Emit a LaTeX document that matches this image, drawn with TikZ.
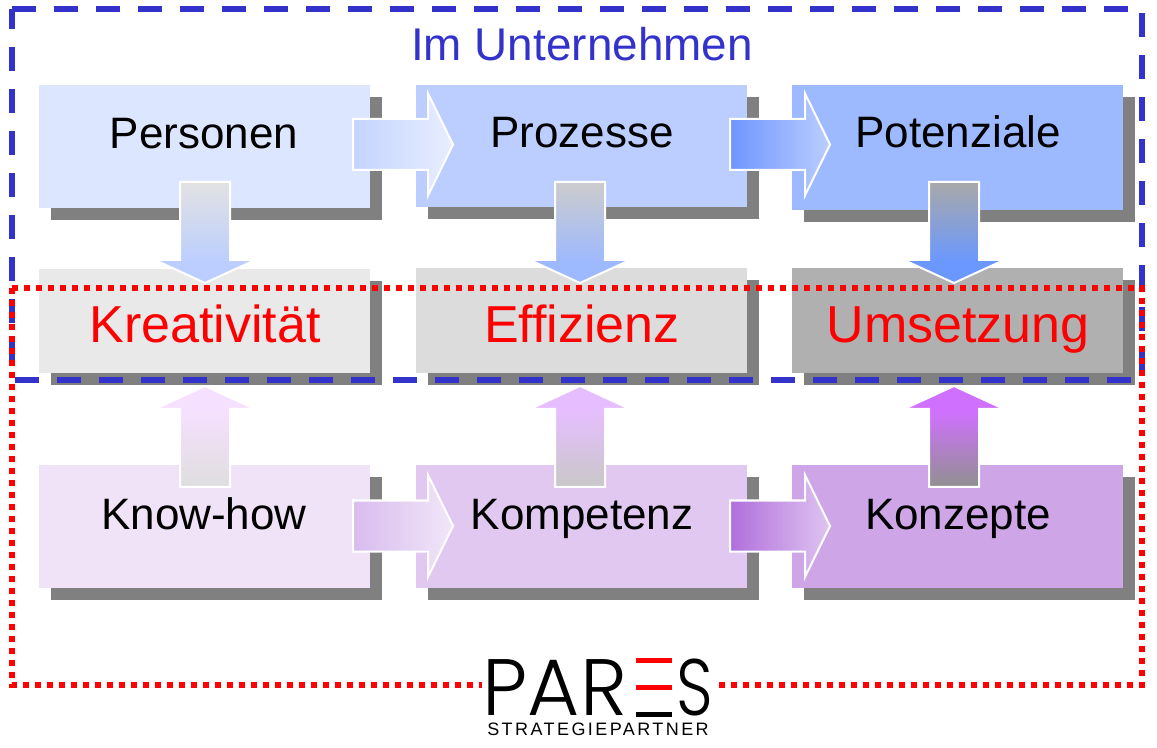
\documentclass[tikz,border=0pt]{standalone}
\usepackage{fontspec}
\setmainfont{Liberation Sans}
\newfontfamily\logofont{Poppins Light}
\newfontfamily\tagfont[LetterSpace=13.5]{Liberation Sans}
\definecolor{shadowgray}{HTML}{808080}
\definecolor{dashblue}{HTML}{3333CC}
\definecolor{pA}{HTML}{DCE6FF}\definecolor{pB}{HTML}{BBCEFF}\definecolor{pC}{HTML}{9DB9FF}
\definecolor{gA}{HTML}{E9E9E9}\definecolor{gB}{HTML}{DCDCDC}\definecolor{gC}{HTML}{B0B0B0}
\definecolor{vA}{HTML}{F0E3F7}\definecolor{vB}{HTML}{E1C8F0}\definecolor{vC}{HTML}{CEA6E8}
\definecolor{raL}{HTML}{C4D4FF}\definecolor{raR}{HTML}{E8EEFF}
\definecolor{rbL}{HTML}{6F95FF}\definecolor{rbR}{HTML}{BBCEFF}
\definecolor{rcL}{HTML}{D8BCEE}\definecolor{rcR}{HTML}{F2E6F9}
\definecolor{rdL}{HTML}{B06FDC}\definecolor{rdR}{HTML}{DFC4F0}
\definecolor{daT}{HTML}{E2E2E2}\definecolor{daB}{HTML}{BBCEFF}
\definecolor{dbT}{HTML}{CCCCCC}\definecolor{dbB}{HTML}{9DB9FF}
\definecolor{dcT}{HTML}{A8A8A8}\definecolor{dcB}{HTML}{6A98FF}
\definecolor{uaB}{HTML}{DEDEDE}\definecolor{uaT}{HTML}{F6E0FF}
\definecolor{ubB}{HTML}{C8C8C8}\definecolor{ubT}{HTML}{E6BEFF}
\definecolor{ucB}{HTML}{909090}\definecolor{ucT}{HTML}{D070FF}
\pgfdeclareverticalshading{downA}{100bp}{color(0bp)=(daB); color(35bp)=(daB); color(75bp)=(daT); color(100bp)=(daT)}
\pgfdeclareverticalshading{downB}{100bp}{color(0bp)=(dbB); color(35bp)=(dbB); color(75bp)=(dbT); color(100bp)=(dbT)}
\pgfdeclareverticalshading{downC}{100bp}{color(0bp)=(dcB); color(35bp)=(dcB); color(75bp)=(dcT); color(100bp)=(dcT)}
\pgfdeclareverticalshading{upA}{100bp}{color(0bp)=(uaB); color(25bp)=(uaB); color(63bp)=(uaT); color(100bp)=(uaT)}
\pgfdeclareverticalshading{upB}{100bp}{color(0bp)=(ubB); color(25bp)=(ubB); color(63bp)=(ubT); color(100bp)=(ubT)}
\pgfdeclareverticalshading{upC}{100bp}{color(0bp)=(ucB); color(25bp)=(ucB); color(63bp)=(ucT); color(100bp)=(ucT)}
\tikzset{
  panel/.style={draw=none,inner sep=0pt,outer sep=0pt},
  shadowbox/.style={fill=shadowgray,draw=none},
  word/.style={anchor=base,inner sep=0pt,font=\fontsize{33pt}{33pt}\selectfont,text=black},
  redword/.style={anchor=base,inner sep=0pt,font=\fontsize{39pt}{39pt}\selectfont,text=red},
  logoword/.style={anchor=base west,inner sep=0pt,text depth=0pt,font=\logofont\fontsize{60pt}{60pt}\selectfont},
  blockarrow/.style={draw=white,line width=1.5pt,line join=miter},
  blueframe/.style={draw=dashblue,line width=4.5pt,dash pattern=on 18pt off 13.5pt},
  redframe/.style={draw=red,line width=4.5pt,dash pattern=on 4.5pt off 4.5pt},
}
\newcommand\shadowat[4]{\fill[shadowbox] ({#1+12},{#2+12}) rectangle ({#3+12},{#4+12});}
\newcommand\panelat[6]{\node[panel,fill=#6,minimum width={(#4-#2)*0.75pt},minimum height={(#5-#3)*0.75pt}] (#1) at ({(#2+#4)/2},{(#3+#5)/2}) {};}
\newcommand\rightblock[4]{\path[blockarrow,left color=#3,right color=#4] (#1,{#2-25.5}) -- ({#1+75},{#2-25.5}) -- ({#1+75},{#2-51}) -- ({#1+100},#2) -- ({#1+75},{#2+51}) -- ({#1+75},{#2+25.5}) -- (#1,{#2+25.5}) -- cycle;}
\newcommand\downblock[3]{\path[blockarrow,shade,shading=#3] ({#1-25},#2) -- ({#1+25},#2) -- ({#1+25},{#2+78}) -- ({#1+50},{#2+78}) -- (#1,{#2+101}) -- ({#1-50},{#2+78}) -- ({#1-25},{#2+78}) -- cycle;}
\newcommand\upblock[3]{\path[blockarrow,shade,shading=#3] ({#1-25},#2) -- ({#1+25},#2) -- ({#1+25},{#2-78}) -- ({#1+50},{#2-78}) -- (#1,{#2-101}) -- ({#1-50},{#2-78}) -- ({#1-25},{#2-78}) -- cycle;}
\begin{document}
\begin{tikzpicture}[x=0.75pt,y=-0.75pt]
\useasboundingbox (0,0) rectangle (1157,748);
% shadows
\shadowat{39}{85}{370}{208}\shadowat{416}{85}{747}{207}\shadowat{792}{85}{1123}{210}
\shadowat{39}{269}{370}{373}\shadowat{416}{268}{747}{373}\shadowat{792}{268}{1123}{373}
\shadowat{39}{465}{370}{588}\shadowat{416}{465}{747}{588}\shadowat{792}{465}{1123}{588}
% blue frame
\draw[blueframe] (12,9) -- (1142,9) -- (1142,380) -- (12,380) -- cycle;
% panels
\panelat{personen}{39}{85}{370}{208}{pA}
\panelat{prozesse}{416}{85}{747}{207}{pB}
\panelat{potenziale}{792}{85}{1123}{210}{pC}
\panelat{kreativitaet}{39}{269}{370}{373}{gA}
\panelat{effizienz}{416}{268}{747}{373}{gB}
\panelat{umsetzung}{792}{268}{1123}{373}{gC}
\panelat{knowhow}{39}{465}{370}{588}{vA}
\panelat{kompetenz}{416}{465}{747}{588}{vB}
\panelat{konzepte}{792}{465}{1123}{588}{vC}
% words
\node[anchor=base,inner sep=0pt,font=\fontsize{34.4pt}{34.4pt}\selectfont,text=dashblue] (title) at (582,61) {Im Unternehmen};
\node[word] (tpersonen) at (204,149) {Personen};
\node[word] (tprozesse) at (582,148) {Prozesse};
\node[word] (tpotenziale) at (958,148) {Potenziale};
\node[redword] (tkreativ) at (205,343) {Kreativität};
\node[redword] (teffizienz) at (582,343) {Effizienz};
\node[redword] (tumsetzung) at (958,343) {Umsetzung};
\node[word] (tknowhow) at (204,529) {Know-how};
\node[word] (tkompetenz) at (582,529) {Kompetenz};
\node[word] (tkonzepte) at (958,529) {Konzepte};
% block arrows
\rightblock{353}{144.5}{raL}{raR}
\rightblock{730}{144.5}{rbL}{rbR}
\rightblock{353}{526}{rcL}{rcR}
\rightblock{730}{526}{rdL}{rdR}
\downblock{205}{182}{downA}
\downblock{580}{182}{downB}
\downblock{954}{182}{downC}
\upblock{205}{487}{upA}
\upblock{580}{487}{upB}
\upblock{954}{487}{upC}
% red frame
\draw[redframe] (12,288) -- (1142,288) -- (1142,685) -- (12,685) -- cycle;
% logo
\fill[white] (482,655) rectangle (719,740);
\node[logoword] (logoa) at (482.5,715) {PAR};
\fill[red] (636,658) rectangle (672,663);
\fill[red] (636,685) rectangle (672,690);
\fill[black] (636,712) rectangle (672,717);
\node[logoword,xscale=0.8] (logob) at (676,715) {S};
\node[anchor=base west,inner sep=0pt,font=\tagfont\fontsize{13.5pt}{13.5pt}\selectfont] (logoc) at (487,735) {STRATEGIEPARTNER};
\end{tikzpicture}
\end{document}
